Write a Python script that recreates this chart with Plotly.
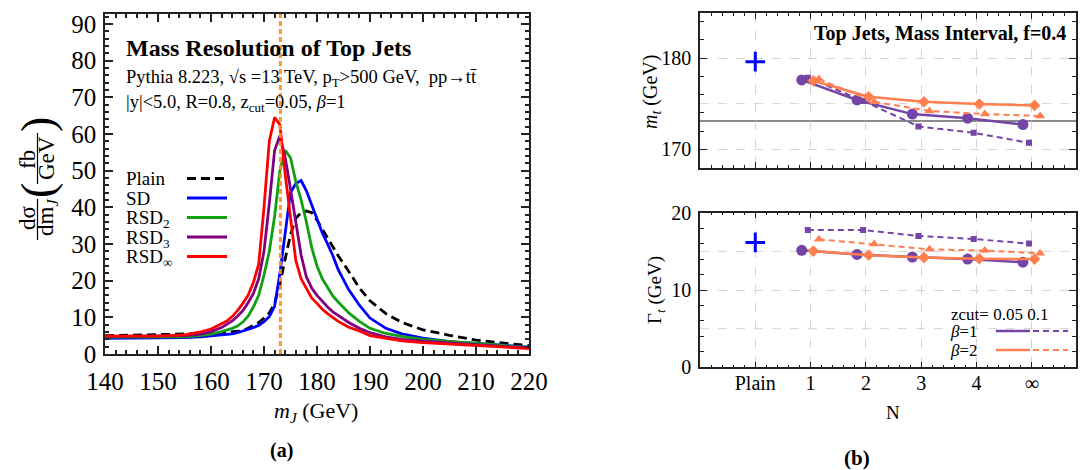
import plotly.graph_objects as go

# ---------------- data: left panel (mass distributions) ----------------
mass = [140, 145, 150, 155, 158, 160, 162, 163, 164, 165, 166, 167, 168, 169, 170,
        171, 172, 173, 174, 175, 176, 177, 178, 179, 180, 181, 182, 183, 184, 186,
        188, 190, 193, 196, 200, 205, 210, 215, 220]
plain = [5.0, 5.1, 5.2, 5.3, 5.5, 5.6, 5.8, 5.9, 6.0, 6.2, 6.5, 7.0, 7.8, 8.6, 9.8,
         11.2, 13.8, 19.0, 26.0, 32.5, 37.0, 38.5, 39.0, 38.5, 36.5, 34.0, 31.5, 29.0, 26.8, 22.5,
         18.0, 14.5, 11.0, 8.6, 6.6, 5.1, 3.8, 3.0, 2.3]
sd = [4.3, 4.3, 4.4, 4.5, 4.7, 4.9, 5.2, 5.4, 5.5, 5.8, 6.2, 6.7, 7.2, 7.8, 8.8,
      10.2, 13.0, 22.0, 33.0, 44.0, 46.5, 47.3, 44.5, 40.5, 36.5, 33.0, 30.0, 26.8, 23.0, 17.5,
      13.3, 9.8, 7.0, 5.5, 4.3, 3.4, 2.9, 2.4, 1.9]
rsd2 = [4.6, 4.6, 4.6, 4.7, 5.0, 5.4, 6.1, 6.5, 7.0, 7.6, 8.7, 10.3, 12.8, 16.0, 21.5,
        28.0, 37.5, 50.0, 55.5, 53.5, 47.0, 42.0, 36.0, 29.0, 24.0, 20.5, 18.0, 15.8, 14.2, 11.2,
        8.9, 7.0, 5.6, 4.8, 4.0, 3.4, 2.8, 2.3, 1.8]
rsd3 = [4.8, 4.8, 4.8, 5.0, 5.4, 6.1, 7.2, 8.0, 9.0, 10.3, 11.8, 14.0, 16.5, 20.5, 28.0,
        41.0, 55.5, 59.5, 53.5, 45.0, 36.0, 27.0, 21.0, 18.0, 16.0, 14.3, 12.8, 11.5, 10.5, 8.6,
        7.0, 5.8, 4.7, 4.0, 3.5, 3.0, 2.5, 2.1, 1.7]
rsdinf = [4.9, 4.9, 4.9, 5.2, 6.0, 6.8, 8.2, 9.0, 10.2, 11.8, 13.8, 16.0, 19.5, 24.5, 40.0,
          58.0, 64.5, 62.5, 49.0, 37.0, 25.5, 20.5, 17.8, 15.3, 13.8, 12.2, 11.0, 9.9, 8.9, 7.3,
          6.3, 5.0, 4.2, 3.6, 3.1, 2.7, 2.3, 1.9, 1.5]
mt_true = 173.1

# ---------------- data: right panels ----------------
n_labels = ["Plain", "1", "2", "3", "4", "\u221e"]
n_cat = [1, 2, 3, 4, 5]
plain_cat = 0
mt_plain = 179.6
mt_b1_z005 = [177.6, 175.4, 173.85, 173.4, 172.7]
mt_b1_z01 = [177.85, 175.3, 172.5, 171.8, 170.7]
mt_b2_z005 = [177.5, 175.75, 175.2, 174.95, 174.8]
mt_b2_z01 = [177.7, 175.2, 174.2, 173.85, 173.65]
gw_plain = 16.16
gw_b1_z005 = [15.13, 14.6, 14.27, 14.0, 13.6]
gw_b1_z01 = [17.76, 17.76, 16.98, 16.6, 16.0]
gw_b2_z005 = [15.04, 14.5, 14.2, 14.05, 14.0]
gw_b2_z01 = [16.55, 15.95, 15.26, 15.1, 14.75]

# ---------------- geometry helpers ----------------
W, H = 1082, 470
def px(x):
    return x / W
def py(y):
    return 1 - y / H

FONT = "Liberation Serif"
PURPLE = "#7445A6"
ORANGE = "#FF7F50"

fig = go.Figure()

curves = [
    (plain, "Plain", "black", "9px,5px"),
    (sd, "SD", "#0000FF", "solid"),
    (rsd2, "RSD2", "#10A010", "solid"),
    (rsd3, "RSD3", "#800080", "solid"),
    (rsdinf, "RSDinf", "#FF0000", "solid"),
]
for ys, name, col, dash in curves:
    fig.add_trace(go.Scatter(x=mass, y=ys, mode="lines", name=name,
                             line=dict(color=col, width=2.8, dash=dash),
                             xaxis="x", yaxis="y", showlegend=False))

off = {"c": -0.16, "s": -0.05, "d": 0.05, "t": 0.15}
def shift(v, o):
    return [c + o for c in v]

def add_series(xs, ys, color, dash, symbol, size, xa, ya, lw):
    fig.add_trace(go.Scatter(x=xs, y=ys, mode="lines+markers",
                             line=dict(color=color, width=lw, dash=dash),
                             marker=dict(symbol=symbol, size=size, color=color),
                             xaxis=xa, yaxis=ya, showlegend=False))

for xa, ya, b1a, b1b, b2a, b2b, pv in [
    ("x2", "y2", mt_b1_z005, mt_b1_z01, mt_b2_z005, mt_b2_z01, mt_plain),
    ("x3", "y3", gw_b1_z005, gw_b1_z01, gw_b2_z005, gw_b2_z01, gw_plain),
]:
    add_series(shift(n_cat, off["c"]), b1a, PURPLE, "solid", "circle", 11, xa, ya, 2.5)
    add_series(shift(n_cat, off["s"]), b1b, PURPLE, "6px,4px", "square", 6, xa, ya, 2)
    add_series(shift(n_cat, off["d"]), b2a, ORANGE, "solid", "diamond", 9, xa, ya, 2.5)
    add_series(shift(n_cat, off["t"]), b2b, ORANGE, "6px,4px", "triangle-up", 9, xa, ya, 2)
    fig.add_trace(go.Scatter(x=[plain_cat], y=[pv], mode="markers",
                             marker=dict(symbol="cross-thin", size=14,
                                         line=dict(color="#0000FF", width=3)),
                             xaxis=xa, yaxis=ya, showlegend=False))

tickfont_big = dict(family=FONT, size=25, color="black")
tickfont_r = dict(family=FONT, size=20, color="black")

def box(**kw):
    d = dict(showline=True, linecolor="#222", linewidth=1.5, mirror="ticks",
             ticks="inside", tickcolor="#222", zeroline=False, automargin=False)
    d.update(kw)
    return d

grid = dict(showgrid=True, gridcolor="#d4d4d4", griddash="dash", gridwidth=1)

fig.update_layout(
    width=W, height=H, margin=dict(l=0, r=0, t=0, b=0, autoexpand=False),
    paper_bgcolor="white", plot_bgcolor="white", showlegend=False,
    xaxis=box(domain=[px(105), px(529)], range=[140, 220], anchor="y",
              dtick=10, tick0=140, ticklen=8, tickwidth=1.5, showgrid=False,
              minor=dict(dtick=2, ticklen=4, ticks="inside", tickcolor="#222"),
              tickfont=tickfont_big, ticklabelstandoff=4),
    yaxis=box(domain=[py(354), py(14)], range=[0, 92.7], anchor="x",
              dtick=10, tick0=0, ticklen=8, tickwidth=1.5, showgrid=False,
              minor=dict(dtick=2, ticklen=4, ticks="inside", tickcolor="#222"),
              tickfont=tickfont_big, ticklabelstandoff=2),
    xaxis2=box(domain=[px(700), px(1076)], range=[-1, 5.8], anchor="y2",
               tickvals=[0, 1, 2, 3, 4, 5], showticklabels=False, ticklen=6,
               minor=dict(dtick=0.2, tick0=0, ticklen=3, ticks="inside", tickcolor="#222"),
               **grid),
    yaxis2=box(domain=[py(167.5), py(13.3)], range=[168, 184.9], anchor="x2",
               tickvals=[170, 180], ticklen=7,
               minor=dict(dtick=2, tick0=0, ticklen=4, ticks="inside", tickcolor="#222"),
               tickfont=tickfont_r, ticklabelstandoff=3, **grid),
    xaxis3=box(domain=[px(700), px(1076)], range=[-1, 5.8], anchor="y3",
               tickvals=[0, 1, 2, 3, 4, 5], ticktext=n_labels, ticklen=6,
               minor=dict(dtick=0.2, tick0=0, ticklen=3, ticks="inside", tickcolor="#222"),
               tickfont=tickfont_r, ticklabelstandoff=-3, **grid),
    yaxis3=box(domain=[py(367.3), py(212.7)], range=[0, 20], anchor="x3",
               tickvals=[0, 10, 20], ticklen=7,
               minor=dict(dtick=2, tick0=0, ticklen=4, ticks="inside", tickcolor="#222"),
               tickfont=tickfont_r, ticklabelstandoff=3, **grid),
)

shapes = []
shapes.append(dict(type="line", xref="x", yref="y domain", x0=mt_true, x1=mt_true, y0=0, y1=1,
                   line=dict(color="#FF8C1A", width=3, dash="5px,3px"), layer="above", opacity=0.9))
shapes.append(dict(type="line", xref="x2 domain", yref="y2", x0=0, x1=1, y0=mt_true, y1=mt_true,
                   line=dict(color="#8a8a8a", width=2), layer="below"))
for yref, val in [("y2", 175), ("y3", 5), ("y3", 15)]:
    xr = "x2 domain" if yref == "y2" else "x3 domain"
    shapes.append(dict(type="line", xref=xr, yref=yref, x0=0, x1=1, y0=val, y1=val,
                       line=dict(color="#d4d4d4", width=1, dash="dash"), layer="below"))

annotations = []
def ann(x, y, text, size, xanchor="left", yanchor="middle", angle=0, bold=False, color="black"):
    if bold:
        text = "<b>" + text + "</b>"
    annotations.append(dict(x=px(x), y=py(y), xref="paper", yref="paper", text=text,
                            showarrow=False, xanchor=xanchor, yanchor=yanchor, borderpad=0,
                            textangle=angle, font=dict(family=FONT, size=size, color=color)))

# left panel texts
ann(125, 48, "Mass Resolution of Top Jets", 24, bold=True)
ann(125, 78, "Pythia 8.223, \u221as =13 TeV, p<sub>T</sub>&gt;500 GeV,  pp\u2192tt\u0304", 18.5)
ann(125, 103, "|y|&lt;5.0, R=0.8, z<sub>cut</sub>=0.05, <i>\u03b2</i>=1", 18.5)

leg = [("Plain", "black", "9px,5px"), ("SD", "#0000FF", "solid"),
       ("RSD<sub>2</sub>", "#10A010", "solid"), ("RSD<sub>3</sub>", "#800080", "solid"),
       ("RSD<sub>\u221e</sub>", "#FF0000", "solid")]
for i, (t, c, d) in enumerate(leg):
    yy = 178.5 + 19.5 * i
    ann(125, yy + (1.5 if i >= 2 else 0), t, 19)
    shapes.append(dict(type="line", xref="paper", yref="paper", x0=px(187), x1=px(227),
                       y0=py(yy), y1=py(yy), line=dict(color=c, width=2.8, dash=d)))

# left y-axis title as a fraction
ann(27, 218, "d\u03c3", 23, xanchor="center", angle=-90)
ann(47, 218, "dm<sub><i>J</i></sub>", 23, xanchor="center", angle=-90)
ann(27, 160, "fb", 23, xanchor="center", angle=-90)
ann(47, 158, "GeV", 23, xanchor="center", angle=-90)
ann(37, 191, "(", 46, xanchor="center", angle=-90)
ann(37, 125, ")", 46, xanchor="center", angle=-90)
for y0, y1 in [(199, 240), (133, 184)]:
    shapes.append(dict(type="line", xref="paper", yref="paper", x0=px(37.5), x1=px(37.5),
                       y0=py(y0), y1=py(y1), line=dict(color="black", width=1.2)))

ann(316, 412, "<i>m<sub>J</sub></i> (GeV)", 22, xanchor="center")
ann(281, 450, "(a)", 20, xanchor="center", bold=True)

# right panel texts
ann(1067, 33, "Top Jets, Mass Interval, f=0.4", 20, xanchor="right", bold=True)
ann(651, 92, "<i>m<sub>t</sub></i> (GeV)", 20, xanchor="center", angle=-90)
ann(656, 290, "\u0393<sub><i>t</i></sub> (GeV)", 19, xanchor="center", angle=-90)
ann(893, 412, "N", 19, xanchor="center")
ann(857, 458, "(b)", 21, xanchor="center", bold=True)

ann(950, 314, "zcut= 0.05 0.1", 17)
ann(979, 331, "<i>\u03b2</i>=1", 17, xanchor="right")
ann(979, 350, "<i>\u03b2</i>=2", 17, xanchor="right")
for yy, col in [(331, PURPLE), (350, ORANGE)]:
    shapes.append(dict(type="line", xref="paper", yref="paper", x0=px(996), x1=px(1030),
                       y0=py(yy), y1=py(yy), line=dict(color=col, width=2.5)))
    shapes.append(dict(type="line", xref="paper", yref="paper", x0=px(1033), x1=px(1068),
                       y0=py(yy), y1=py(yy), line=dict(color=col, width=2, dash="6px,4px")))

fig.update_layout(shapes=shapes, annotations=annotations)
fig.write_html("out.html")
